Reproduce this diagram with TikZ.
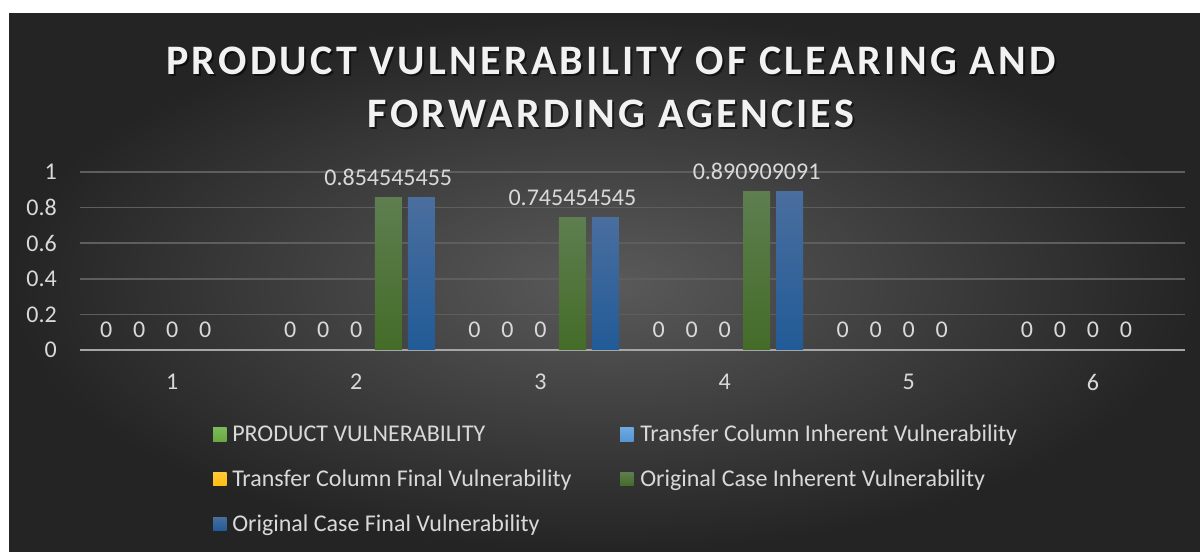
\documentclass[tikz,border=0pt]{standalone}
\usepackage{fontspec}
\setmainfont{Carlito}
\newfontfamily\titlefont[LetterSpace=7.8]{Carlito}
\definecolor{bgin}{HTML}{5A5A5A}
\definecolor{bgout}{HTML}{242424}
\definecolor{gridc}{HTML}{5E5E5E}
\definecolor{axisc}{HTML}{A6A6A6}
\definecolor{lbltext}{HTML}{D9D9D9}
\definecolor{titletext}{HTML}{F2F2F2}
\definecolor{pvtop}{HTML}{7CBB58}
\definecolor{pvbot}{HTML}{6AA842}
\definecolor{tcitop}{HTML}{6FA9E0}
\definecolor{tcibot}{HTML}{5696D2}
\definecolor{tcftop}{HTML}{FFCB3A}
\definecolor{tcfbot}{HTML}{FFBC10}
\definecolor{ocitop}{HTML}{5E7E50}
\definecolor{ocibot}{HTML}{446C28}
\definecolor{ocftop}{HTML}{4A6E9E}
\definecolor{ocfbot}{HTML}{215B97}

\begin{document}
\begin{tikzpicture}[x=0.75pt,y=-0.75pt,
  lbl/.style={text=lbltext,font=\fontsize{18}{20}\selectfont,inner sep=0pt},
  ttl/.style={font=\titlefont\bfseries\fontsize{31.5}{34}\selectfont,inner sep=0pt,anchor=base}]
\useasboundingbox (0,0) rectangle (1200,552);
\fill[white] (0,0) rectangle (1200,552);
\shade[inner color=bgin,outer color=bgout] (9,14) rectangle (1200,552);
% title
\node[ttl,text=black,opacity=0.55] (t1s) at (613,77) {PRODUCT VULNERABILITY OF CLEARING AND};
\node[ttl,text=black,opacity=0.55] (t2s) at (613,130) {FORWARDING AGENCIES};
\node[ttl,text=titletext] (t1) at (611,75) {PRODUCT VULNERABILITY OF CLEARING AND};
\node[ttl,text=titletext] (t2) at (611,128) {FORWARDING AGENCIES};
% grid and y labels
\foreach \v in {0.2,0.4,0.6,0.8,1}
  \draw[gridc,line width=1.1pt] (80,350-178*\v) -- (1185,350-178*\v);
\foreach \v/\t [count=\i from 0] in {0/0,0.2/0.2,0.4/0.4,0.6/0.6,0.8/0.8,1/1}
  \node[lbl,anchor=east] (y\i) at (57,350-178*\v) {\t};
\draw[axisc,line width=2pt] (80,350) -- (1185,350);
% bars
\foreach \g/\v/\t in {2/0.854545455/0.854545455,3/0.745454545/0.745454545,4/0.890909091/0.890909091}{
  \shade[top color=ocitop,bottom color=ocibot] ({80+184.17*(\g-0.5)+33-13.5-1},350) rectangle ({80+184.17*(\g-0.5)+33+13.5-1},350-178*\v);
  \shade[top color=ocftop,bottom color=ocfbot] ({80+184.17*(\g-0.5)+66-13.5-1},350) rectangle ({80+184.17*(\g-0.5)+66+13.5-1},350-178*\v);
  \node[lbl] (v\g) at ({80+184.17*(\g-0.5)+32},350-178*\v-20) {\t};
}
% zero labels and categories
\foreach \g/\n in {1/4,2/3,3/3,4/3,5/4,6/4}{
  \node[lbl] (c\g) at ({80+184.17*(\g-0.5)},382) {\g};
  \foreach \k in {1,...,\n}
    \node[lbl] (z\g\k) at ({80+184.17*(\g-0.5)+33*(\k-3)},330) {0};
}
% legend
\shade[top color=pvtop,bottom color=pvbot] (213,427.5) rectangle (226.5,441);
\node[lbl,anchor=base west] (l1) at (232,441.5) {PRODUCT VULNERABILITY};
\shade[top color=tcitop,bottom color=tcibot] (620,427.5) rectangle (633.5,441);
\node[lbl,anchor=base west] (l2) at (640,441.5) {Transfer Column Inherent Vulnerability};
\shade[top color=tcftop,bottom color=tcfbot] (213,472) rectangle (226.5,485.5);
\node[lbl,anchor=base west] (l3) at (232,486) {Transfer Column Final Vulnerability};
\shade[top color=ocitop,bottom color=ocibot] (620,472) rectangle (633.5,485.5);
\node[lbl,anchor=base west] (l4) at (640,486) {Original Case Inherent Vulnerability};
\shade[top color=ocftop,bottom color=ocfbot] (213,517) rectangle (226.5,530.5);
\node[lbl,anchor=base west] (l5) at (232,531) {Original Case Final Vulnerability};
\end{tikzpicture}
\end{document}
